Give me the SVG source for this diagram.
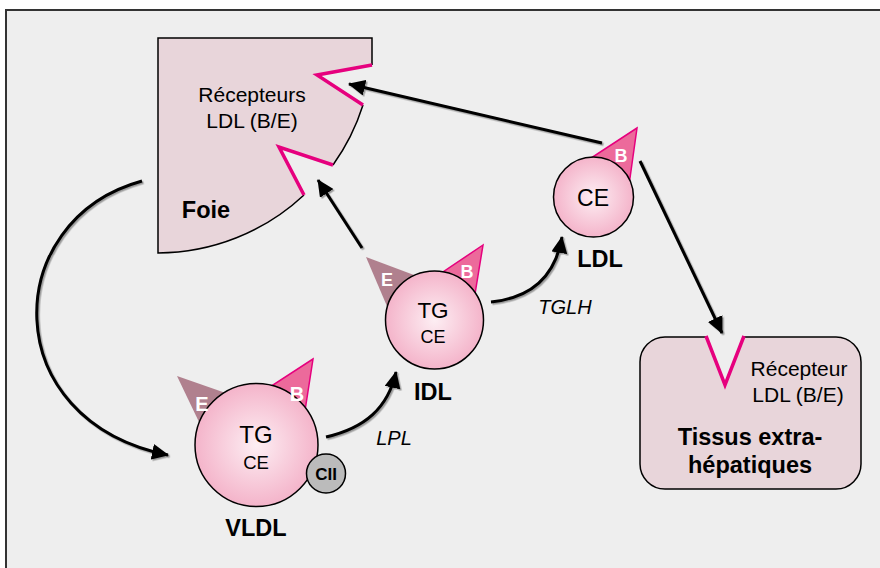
<svg xmlns="http://www.w3.org/2000/svg" width="880" height="568" viewBox="0 0 880 568">
<defs>
<radialGradient id="ball" cx="50%" cy="50%" r="50%">
<stop offset="0" stop-color="#fdeef3"/>
<stop offset="1" stop-color="#f4b4ca"/>
</radialGradient>
<filter id="sh" x="-20%" y="-20%" width="140%" height="140%">
<feDropShadow dx="1.5" dy="1.5" stdDeviation="0.7" flood-color="#000" flood-opacity="0.35"/>
</filter>
<marker id="ah" markerWidth="18" markerHeight="16" refX="16" refY="8" orient="auto" markerUnits="userSpaceOnUse">
<path d="M0,0 L17,8 L0,16 Z" fill="#000"/>
</marker>
<style>
.arrow{fill:none;stroke:#000;stroke-width:3;marker-end:url(#ah);filter:url(#sh)}
.ball{fill:url(#ball);stroke:#000;stroke-width:1.5}
.apoB{fill:#ec6a9b;stroke:#e6007e;stroke-width:1.5}
.apoE{fill:#b0808e;stroke:none}
.rec{fill:none;stroke:#e6007e;stroke-width:3.5;stroke-linejoin:miter}
.out{fill:none;stroke:#000;stroke-width:1.5}
.t{font-family:"Liberation Sans",Arial,sans-serif;fill:#000;text-anchor:middle}
.b{font-weight:bold}
.w{fill:#fff;font-weight:bold}
.i{font-style:italic}
</style>
</defs>
<rect x="0" y="0" width="880" height="568" fill="#fff"/>
<rect x="6" y="10" width="880" height="570" fill="#eeeeee" stroke="#333" stroke-width="2"/>

<g id="foie">
<path d="M158,38 H372 V65 L317,75 L363,105 A215,215 0 0 1 333,165 L279,147 L304,195 A215,215 0 0 1 158,253 Z" fill="#e8d5da"/>
<path class="out" d="M304,195 A215,215 0 0 1 158,253 V38 H372 V65"/>
<path class="out" d="M363,105 A215,215 0 0 1 333,165"/>
<path class="rec" d="M372,65 L317,75 L363,105"/>
<path class="rec" d="M333,165 L279,147 L304,195"/>
<text class="t" x="252" y="102" font-size="21">Récepteurs</text>
<text class="t" x="252" y="128" font-size="21">LDL (B/E)</text>
<text class="t b" x="206" y="218" font-size="23.5">Foie</text>
</g>

<g id="tissus">
<path d="M665,337 H706 L725,385 L744,337 H836 A25,25 0 0 1 861,362 V464 A25,25 0 0 1 836,489 H665 A25,25 0 0 1 640,464 V362 A25,25 0 0 1 665,337 Z" fill="#e8d5da"/>
<path class="out" d="M706,337 H665 A25,25 0 0 0 640,362 V464 A25,25 0 0 0 665,489 H836 A25,25 0 0 0 861,464 V362 A25,25 0 0 0 836,337 H744"/>
<path class="rec" d="M706,336 L725,385 L744,336"/>
<text class="t" x="799" y="376" font-size="21">Récepteur</text>
<text class="t" x="798" y="402" font-size="21">LDL (B/E)</text>
<text class="t b" x="750" y="445" font-size="23.5">Tissus extra-</text>
<text class="t b" x="750" y="473" font-size="23.5">hépatiques</text>
</g>

<g id="vldl">
<polygon class="apoE" points="177,376 240,398 210,445"/>
<polygon class="apoB" points="313,359 262,392 302,430"/>
<circle class="ball" cx="256.5" cy="445" r="61.5"/>
<text class="t w" x="202" y="411" font-size="20">E</text>
<text class="t w" x="297" y="401" font-size="20">B</text>
<text class="t" x="256" y="443" font-size="24">TG</text>
<text class="t" x="256" y="469" font-size="18.5">CE</text>
<circle cx="326" cy="473.5" r="19.5" fill="#bbbbbb" stroke="#000" stroke-width="1.5"/>
<text class="t b" x="326" y="480" font-size="17">CII</text>
<text class="t b" x="256" y="536" font-size="23.5">VLDL</text>
</g>

<g id="idl">
<polygon class="apoE" points="366,257 422,278 392,318"/>
<polygon class="apoB" points="483,245 437,276 474,300"/>
<circle class="ball" cx="434.5" cy="320" r="49"/>
<text class="t w" x="387" y="286" font-size="18">E</text>
<text class="t w" x="467" y="278" font-size="18">B</text>
<text class="t" x="433" y="318" font-size="22.5">TG</text>
<text class="t" x="433" y="343" font-size="18">CE</text>
<text class="t b" x="433" y="400" font-size="23.5">IDL</text>
</g>

<g id="ldl">
<polygon class="apoB" points="637,128 588,160 629,185"/>
<circle class="ball" cx="593.5" cy="197" r="40"/>
<text class="t w" x="621" y="162" font-size="18">B</text>
<text class="t" x="593" y="206" font-size="23">CE</text>
<text class="t b" x="600" y="267" font-size="23.5">LDL</text>
</g>

<g id="connectors">
<path class="arrow" d="M142,181 C0,220 -5,420 168,455"/>
<path class="arrow" d="M326,437 C365,428 388,408 396,372"/>
<path class="arrow" d="M491,302 C530,298 555,278 562,237"/>
<path class="arrow" d="M362,248 L318,180"/>
<path class="arrow" d="M602,143 L349,84"/>
<path class="arrow" d="M640,161 L722,333"/>
<text class="t i" x="394" y="445" font-size="20">LPL</text>
<text class="t i" x="565" y="314" font-size="20">TGLH</text>
</g>
</svg>
